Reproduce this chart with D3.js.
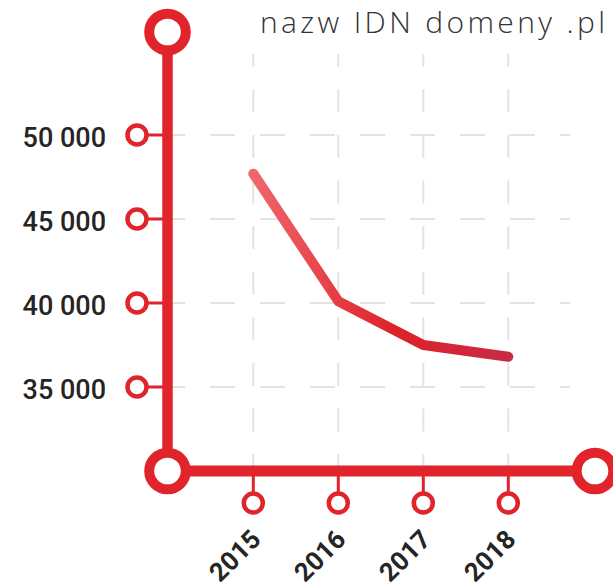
<!DOCTYPE html>
<html>
<head>
<meta charset="utf-8">
<script src="https://cdn.jsdelivr.net/npm/d3@7"></script>
<style>
  html, body { margin: 0; padding: 0; background: #fff; }
  svg { display: block; }
</style>
</head>
<body>
<div id="chart"></div>
<script>
const years = [2015, 2016, 2017, 2018];
const counts = [47700, 40100, 37500, 36800];
const yTicks = [35000, 40000, 45000, 50000];
const title = 'nazw IDN domeny .pl';

const W = 613, H = 587;
const RED = '#e1242b', INK = '#252525', GRID = '#e3e3e3';

const svg = d3.select('#chart').append('svg').attr('width', W).attr('height', H);

const x = d3.scaleLinear().domain([2015, 2018]).range([253.3, 508.3]);
const y = d3.scaleLinear().domain([30000, 50000]).range([471, 135]);
const fmt = d3.formatLocale({ decimal: ',', thousands: ' ', grouping: [3], currency: ['', ''] }).format(',d');

const axisX = 167.5, axisTop = 32, axisRight = 595, axisY = y(30000);

// grid
svg.append('g').selectAll('line').data(yTicks).join('line')
  .attr('x1', 160).attr('x2', 570).attr('y1', d => y(d)).attr('y2', d => y(d))
  .attr('stroke', GRID).attr('stroke-width', 2).attr('stroke-dasharray', '25 25');
svg.append('g').selectAll('line').data(years).join('line')
  .attr('x1', d => x(d)).attr('x2', d => x(d)).attr('y1', 54).attr('y2', axisY)
  .attr('stroke', GRID).attr('stroke-width', 2)
  .attr('stroke-dasharray', '23 22.6').attr('stroke-dashoffset', 10.3);

// y ticks
const yt = svg.append('g').selectAll('g').data(yTicks).join('g')
  .attr('transform', d => `translate(0,${y(d)})`);
yt.append('line').attr('x1', 137).attr('x2', axisX).attr('stroke', RED).attr('stroke-width', 3);
yt.append('circle').attr('cx', 137).attr('r', 9.5).attr('fill', '#fff')
  .attr('stroke', RED).attr('stroke-width', 4.5);
yt.append('text').attr('x', 106).attr('y', 11.5).attr('text-anchor', 'end')
  .attr('font-family', 'Roboto, sans-serif').attr('font-size', 27).attr('font-weight', 500)
  .attr('fill', INK).text(d => fmt(d));

// x ticks
const xt = svg.append('g').selectAll('g').data(years).join('g')
  .attr('transform', d => `translate(${x(d)},0)`);
xt.append('line').attr('y1', axisY).attr('y2', 503).attr('stroke', RED).attr('stroke-width', 3);
xt.append('circle').attr('cy', 503).attr('r', 9.5).attr('fill', '#fff')
  .attr('stroke', RED).attr('stroke-width', 4.5);
xt.append('text').attr('transform', 'translate(9,541) rotate(-45)').attr('text-anchor', 'end')
  .attr('font-family', 'Roboto, sans-serif').attr('font-size', 26).attr('font-weight', 700)
  .attr('fill', INK).text(d => d);

// main axes
svg.append('line').attr('x1', axisX).attr('x2', axisX).attr('y1', axisTop).attr('y2', axisY)
  .attr('stroke', RED).attr('stroke-width', 10.5);
svg.append('line').attr('x1', axisX).attr('x2', axisRight).attr('y1', axisY).attr('y2', axisY)
  .attr('stroke', RED).attr('stroke-width', 11);
svg.append('g').selectAll('circle')
  .data([[axisX, axisTop], [axisX, axisY], [axisRight, axisY]]).join('circle')
  .attr('cx', d => d[0]).attr('cy', d => d[1]).attr('r', 18.3)
  .attr('fill', '#fff').attr('stroke', RED).attr('stroke-width', 10);

// data line
const grad = svg.append('defs').append('linearGradient').attr('id', 'lg')
  .attr('gradientUnits', 'userSpaceOnUse')
  .attr('x1', x(2015)).attr('x2', x(2018)).attr('y1', 0).attr('y2', 0);
grad.append('stop').attr('offset', 0).attr('stop-color', '#f0666c');
grad.append('stop').attr('offset', 0.55).attr('stop-color', '#de2229');
grad.append('stop').attr('offset', 1).attr('stop-color', '#c82b45');

svg.append('path').datum(years.map((d, i) => [d, counts[i]]))
  .attr('d', d3.line().x(d => x(d[0])).y(d => y(d[1])))
  .attr('fill', 'none').attr('stroke', 'url(#lg)').attr('stroke-width', 10)
  .attr('stroke-linecap', 'round').attr('stroke-linejoin', 'round');

// title
svg.append('text').attr('x', 260).attr('y', 33)
  .attr('font-family', '"Open Sans", sans-serif').attr('font-size', 30).attr('font-weight', 300)
  .attr('fill', '#333').attr('textLength', 345).attr('lengthAdjust', 'spacing')
  .text(title);
</script>
</body>
</html>
